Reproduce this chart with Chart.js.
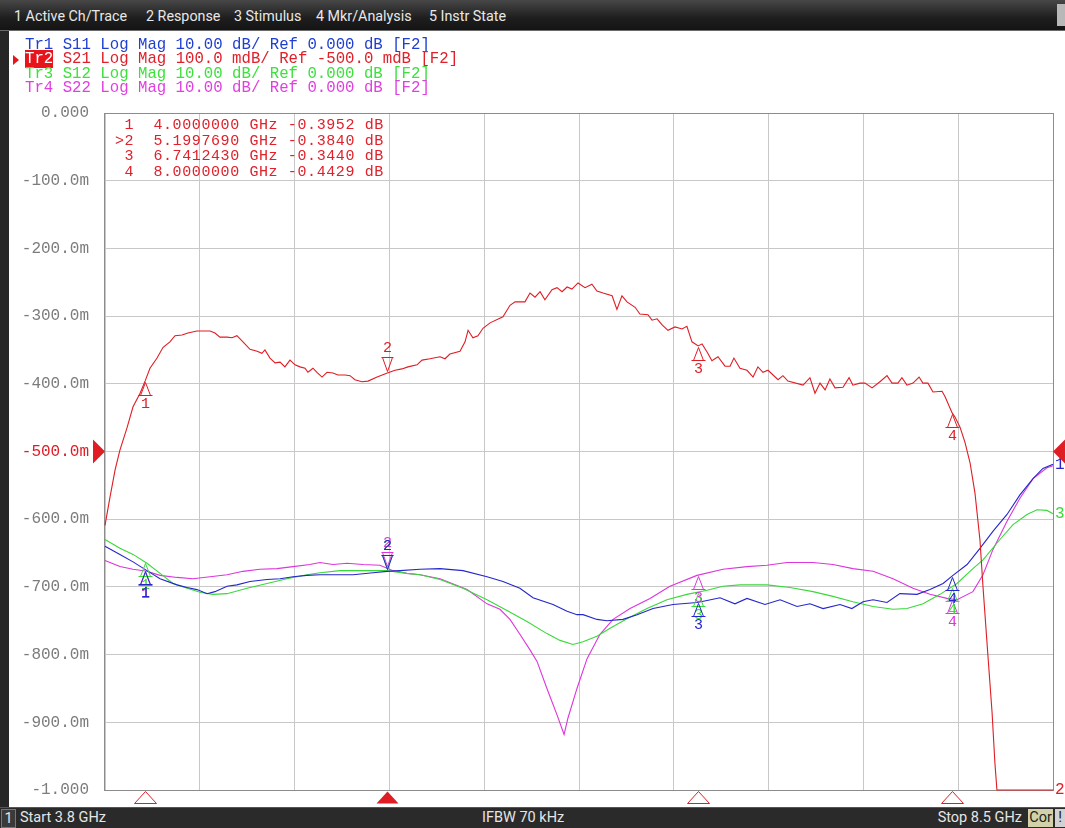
<!DOCTYPE html>
<html>
<head>
<meta charset="utf-8">
<script src="https://cdn.jsdelivr.net/npm/chart.js@4.4.0/dist/chart.umd.min.js"></script>
<style>
  html,body{margin:0;padding:0;}
  body{width:1065px;height:828px;background:#262626;overflow:hidden;position:relative;font-family:Roboto,"DejaVu Sans",sans-serif;}
  #menubar{position:absolute;left:0;top:0;width:1065px;height:30px;background:linear-gradient(#474747,#1e1e1e 60%,#141414);border-bottom:1px solid #6a6a6a;}
  #menubar span{position:absolute;top:8px;color:#e8e8e8;font-size:14.3px;white-space:nowrap;}
  #menubar .rbox{position:absolute;right:0;top:4px;width:8px;height:22px;background:#b8b8b8;}
  #panel{position:absolute;left:9px;top:31px;width:1056px;height:776px;background:#fff;}
  #c{position:absolute;left:0;top:0;}
  .mono{font-family:"Liberation Mono","DejaVu Sans Mono",monospace;white-space:pre;position:absolute;}
  #hdr{left:25px;top:38px;font-size:15.7px;line-height:14.3px;}
  #hdr .tr2{background:#e8141c;color:#fff;}
  #hdr .arrow{position:absolute;left:-12px;top:17px;width:0;height:0;border-top:5px solid transparent;border-bottom:5px solid transparent;border-left:6px solid #e8141c;}
  #mkt{left:115px;top:118px;font-size:15px;line-height:15.5px;letter-spacing:0.6px;color:#e0202a;}
  #bottombar{position:absolute;left:0;top:807px;width:1065px;height:21px;background:#2a2a2a;border-top:1px solid #555;}
  #bottombar span{position:absolute;top:1px;color:#e6e6e6;font-size:14.5px;white-space:nowrap;}
  #bottombar .chbox{left:1px;top:1px;width:13px;height:17px;border:1px solid #777;background:#3a3a3a;text-align:center;line-height:17px;}
  #bottombar .stop{right:43px;}
  #bottombar .cor{left:1028px;top:1px;width:25px;height:18px;background:#d2d2a8;color:#222;text-align:center;line-height:18px;}
  #bottombar .ex{left:1055px;top:1px;width:10px;height:18px;background:#d2d2d2;color:#222;text-align:center;line-height:18px;}
</style>
</head>
<body>
<div id="menubar">
  <span style="left:14px">1 Active Ch/Trace</span>
  <span style="left:146px">2 Response</span>
  <span style="left:234px">3 Stimulus</span>
  <span style="left:316px">4 Mkr/Analysis</span>
  <span style="left:429px">5 Instr State</span>
  <div class="rbox"></div>
</div>
<div id="panel"></div>
<canvas id="c" width="1065" height="828"></canvas>
<div id="hdr" class="mono"><span style="color:#1f3fd0">Tr1 S11 Log Mag 10.00 dB/ Ref 0.000 dB [F2]</span>
<span class="tr2">Tr2</span><span style="color:#e0202a"> S21 Log Mag 100.0 mdB/ Ref -500.0 mdB [F2]</span>
<span style="color:#3ee03e">Tr3 S12 Log Mag 10.00 dB/ Ref 0.000 dB [F2]</span>
<span style="color:#e040e0">Tr4 S22 Log Mag 10.00 dB/ Ref 0.000 dB [F2]</span><div class="arrow"></div></div>
<div id="mkt" class="mono"></div>
<div id="bottombar">
  <span class="chbox">1</span>
  <span style="left:20px">Start 3.8 GHz</span>
  <span style="left:482px">IFBW 70 kHz</span>
  <span class="stop">Stop 8.5 GHz</span>
  <span class="cor">Cor</span>
  <span class="ex">!</span>
</div>
<script>
// ---------- data ----------
const startGHz = 3.8;
const stopGHz = 8.5;

const s21Freq = [3.800,3.825,3.850,3.874,3.909,3.939,3.974,4.000,4.023,4.058,
4.088,4.122,4.147,4.182,4.211,4.256,4.321,4.345,4.370,4.405,
4.430,4.454,4.484,4.519,4.554,4.578,4.593,4.618,4.643,4.668,
4.692,4.717,4.742,4.767,4.792,4.806,4.831,4.851,4.876,4.901,
4.930,4.955,4.990,5.015,5.039,5.074,5.104,5.149,5.200,5.238,
5.272,5.302,5.347,5.372,5.411,5.461,5.486,5.510,5.560,5.585,
5.600,5.624,5.649,5.674,5.709,5.773,5.808,5.833,5.882,5.907,
5.932,5.957,5.981,6.016,6.041,6.066,6.091,6.115,6.145,6.180,
6.214,6.239,6.269,6.314,6.338,6.363,6.388,6.428,6.452,6.492,
6.512,6.537,6.562,6.591,6.626,6.661,6.685,6.710,6.741,6.760,
6.785,6.809,6.839,6.874,6.899,6.918,6.948,6.983,7.013,7.037,
7.062,7.087,7.137,7.161,7.186,7.261,7.295,7.320,7.345,7.370,
7.394,7.419,7.459,7.489,7.508,7.543,7.568,7.603,7.642,7.677,
7.702,7.731,7.751,7.776,7.806,7.836,7.855,7.880,7.905,7.950,
7.965,8.000,8.014,8.039,8.064,8.089,8.113,8.138,8.153,8.178,
8.198,8.212,8.222,8.500];
// S21 in mdB (display clamps at -1000 mdB)
const s21MdB = [-609,-567,-527,-498,-465,-434,-414,-395,-377,-362,
-346,-338,-329,-328,-325,-322,-322,-325,-331,-331,
-332,-329,-338,-349,-352,-355,-350,-362,-369,-368,
-375,-365,-372,-375,-377,-383,-377,-383,-390,-383,
-384,-387,-387,-388,-394,-397,-396,-390,-384,-380,
-378,-375,-372,-365,-363,-360,-363,-356,-352,-338,
-321,-332,-329,-318,-310,-301,-284,-279,-279,-266,
-272,-264,-276,-261,-258,-264,-257,-260,-251,-258,
-253,-263,-266,-270,-290,-270,-279,-287,-297,-298,
-306,-304,-313,-321,-316,-319,-315,-338,-344,-341,
-353,-366,-360,-374,-374,-362,-377,-380,-390,-375,
-383,-380,-394,-388,-396,-402,-391,-414,-399,-409,
-393,-406,-405,-391,-402,-399,-399,-406,-397,-388,
-399,-399,-391,-402,-399,-390,-399,-399,-412,-411,
-419,-443,-449,-464,-487,-517,-561,-631,-700,-804,
-886,-960,-1000,-1000];

const s11Freq = [3.800,3.874,3.939,4.008,4.073,4.157,4.207,4.256,4.306,4.345,
4.405,4.454,4.519,4.603,4.668,4.732,4.801,4.866,4.930,5.030,
5.129,5.198,5.263,5.362,5.461,5.575,5.694,5.773,5.857,5.922,
6.021,6.091,6.140,6.170,6.239,6.289,6.368,6.438,6.517,6.616,
6.735,6.785,6.849,6.923,6.983,7.072,7.147,7.231,7.295,7.360,
7.444,7.503,7.558,7.608,7.677,7.741,7.826,7.890,7.955,8.004,
8.074,8.138,8.202,8.272,8.336,8.401,8.450,8.500];
const s11Db = [-14.0,-15.2,-16.3,-17.6,-18.8,-19.7,-20.1,-20.4,-21.0,-20.7,
-19.9,-19.7,-19.2,-18.9,-18.8,-18.5,-18.3,-18.2,-18.2,-18.2,
-17.9,-17.7,-17.6,-17.4,-17.3,-17.6,-18.5,-19.2,-20.2,-21.6,
-22.6,-23.6,-24.1,-24.1,-24.8,-25.0,-24.8,-24.1,-23.2,-22.6,
-22.3,-22.0,-21.6,-22.5,-21.7,-22.6,-21.9,-22.9,-22.5,-23.2,
-22.6,-23.2,-22.2,-21.9,-22.3,-21.0,-21.1,-20.4,-19.5,-18.3,
-16.7,-14.3,-11.8,-9.3,-6.4,-4.0,-2.5,-1.9];

const s12Freq = [3.800,3.874,3.939,4.008,4.073,4.137,4.207,4.271,4.335,4.405,
4.504,4.603,4.702,4.801,4.866,4.965,5.099,5.198,5.297,5.362,
5.461,5.575,5.694,5.793,5.892,5.991,6.056,6.120,6.170,6.239,
6.304,6.388,6.487,6.586,6.685,6.785,6.864,6.948,7.082,7.196,
7.310,7.409,7.508,7.608,7.707,7.776,7.856,7.940,8.024,8.103,
8.153,8.237,8.302,8.371,8.421,8.470,8.500];
const s12Db = [-13.0,-14.3,-15.2,-16.5,-18.0,-19.5,-20.2,-20.8,-21.1,-21.0,
-20.2,-19.5,-18.8,-18.2,-17.9,-17.6,-17.6,-17.6,-18.0,-18.2,
-18.9,-20.2,-21.9,-23.5,-25.1,-26.9,-27.9,-28.5,-28.1,-27.3,
-26.1,-24.7,-23.2,-21.9,-21.1,-20.5,-19.9,-19.7,-19.7,-20.1,
-20.7,-21.4,-22.2,-22.9,-23.3,-23.2,-22.5,-21.1,-19.5,-17.3,
-16.0,-13.0,-10.8,-9.3,-8.6,-8.7,-9.2];

const s22Freq = [3.800,3.874,3.939,4.008,4.073,4.157,4.236,4.321,4.405,4.484,
4.568,4.653,4.732,4.816,4.866,4.930,5.000,5.079,5.163,5.228,
5.297,5.362,5.461,5.595,5.694,5.758,5.808,5.857,5.907,5.942,
5.991,6.041,6.076,6.095,6.140,6.190,6.254,6.319,6.403,6.502,
6.601,6.735,6.864,6.983,7.082,7.181,7.310,7.409,7.508,7.608,
7.707,7.806,7.890,7.974,8.024,8.103,8.153,8.202,8.272,8.336,
8.401,8.470,8.500];
const s22Db = [-16.1,-17.0,-17.4,-17.7,-18.3,-18.6,-18.8,-18.5,-18.2,-17.7,
-17.4,-17.3,-17.0,-16.7,-16.4,-16.7,-16.5,-16.7,-16.8,-17.6,
-18.0,-18.2,-18.8,-20.4,-22.5,-23.3,-24.8,-27.0,-29.3,-31.0,
-35.0,-38.9,-41.8,-39.4,-35.0,-30.6,-27.0,-24.8,-23.2,-21.7,
-19.9,-18.3,-17.4,-17.0,-16.8,-16.4,-16.4,-16.7,-17.3,-17.7,
-18.8,-20.2,-21.1,-21.7,-21.9,-20.7,-18.2,-14.5,-10.3,-6.9,
-4.0,-2.4,-2.1];

// markers
const markerNames = ['1','2','3','4'];
const markerFreq = [4.0000000, 5.1997690, 6.7412430, 8.0000000];
const markerS21dB = [-0.3952, -0.3840, -0.3440, -0.4429];
const activeMarker = 1;

// y axis (S21 scale, mdB) ticks and labels
const yTickMdB = [0,-100,-200,-300,-400,-500,-600,-700,-800,-900,-1000];
const yTickLabels = ['0.000','-100.0m','-200.0m','-300.0m','-400.0m','-500.0m','-600.0m','-700.0m','-800.0m','-900.0m','-1.000'];
const s21RefMdB = -500;
// other traces: 10 dB/div, ref 0 dB at centre
const dbScaleMin = -50, dbScaleMax = 50;

// ---------- colours ----------
const C_RED = '#e01c24', C_BLUE = '#2626cc', C_GREEN = '#3ad83a', C_MAG = '#dc36dc';

// marker table text
document.getElementById('mkt').textContent = markerNames.map((n,i)=>{
  const pre = (i===activeMarker ? '>' : ' ') + n;
  return pre + '  ' + markerFreq[i].toFixed(7) + ' GHz ' + markerS21dB[i].toFixed(4) + ' dB';
}).join('\n');

function pts(fx, vy){ return fx.map((f,i)=>({x:f, y:vy[i]})); }
function interp(xs, ys, x){
  for(let i=0;i<xs.length-1;i++){
    if(x>=xs[i] && x<=xs[i+1]){ const t=(x-xs[i])/(xs[i+1]-xs[i]); return ys[i]+t*(ys[i+1]-ys[i]); }
  }
  return ys[ys.length-1];
}

const traces = [
  {name:'1', freq:s11Freq, vals:s11Db, axis:'y2', color:C_BLUE},
  {name:'2', freq:s21Freq, vals:s21MdB, axis:'y', color:C_RED, mk: markerS21dB.map(v=>v*1000)},
  {name:'3', freq:s12Freq, vals:s12Db, axis:'y2', color:C_GREEN},
  {name:'4', freq:s22Freq, vals:s22Db, axis:'y2', color:C_MAG}
];

const MONO = '"Liberation Mono","DejaVu Sans Mono",monospace';

const vnaPlugin = {
  id:'vna',
  beforeDatasetsDraw(chart){
    const {ctx, chartArea:a} = chart;
    ctx.save();
    ctx.strokeStyle = '#8c8c8c'; ctx.lineWidth = 1;
    ctx.strokeRect(Math.round(a.left)-0.5, Math.round(a.top)+0.5, Math.round(a.right-a.left)+1, Math.round(a.bottom-a.top));
    ctx.restore();
  },
  afterDatasetsDraw(chart){
    const {ctx, chartArea:a, scales} = chart;
    const xs = scales.x;
    ctx.save();
    ctx.lineWidth = 1;
    ctx.font = '15px ' + MONO;
    ctx.textAlign = 'center'; ctx.textBaseline = 'middle';
    // trace markers, drawn magenta, green, red, blue (blue on top)
    const order = [3,2,1,0];
    order.forEach(ti=>{
      const t = traces[ti];
      const ys = scales[t.axis];
      markerFreq.forEach((f,mi)=>{
        const v = t.mk ? t.mk[mi] : interp(t.freq, t.vals, f);
        const px = Math.round(xs.getPixelForValue(f)) + 0.5;
        const py = Math.round(ys.getPixelForValue(v)) + 0.5;
        ctx.strokeStyle = t.color; ctx.fillStyle = t.color;
        ctx.beginPath();
        if(mi === activeMarker){
          ctx.moveTo(px, py-2); ctx.lineTo(px-5, py-16); ctx.lineTo(px+5, py-16); ctx.closePath();
          ctx.moveTo(px-6, py-16); ctx.lineTo(px+6, py-16);
          ctx.stroke();
          ctx.fillText(markerNames[mi], px, py-25);
        } else {
          ctx.moveTo(px, py+1); ctx.lineTo(px-5, py+14); ctx.lineTo(px+5, py+14); ctx.closePath();
          ctx.moveTo(px-7, py+14); ctx.lineTo(px+7, py+14);
          ctx.stroke();
          ctx.fillText(markerNames[mi], px, py+23);
        }
      });
    });
    // trace end labels
    ctx.textAlign = 'left';
    ctx.font = '16px ' + MONO;
    [2,1,0].forEach(ti=>{
      const t = traces[ti];
      const v = t.vals[t.vals.length-1];
      ctx.fillStyle = t.color;
      ctx.fillText(t.name, a.right+2, scales[t.axis].getPixelForValue(v));
    });
    // stimulus markers on bottom
    ctx.strokeStyle = C_RED; ctx.fillStyle = C_RED;
    markerFreq.forEach((f,mi)=>{
      const px = Math.round(xs.getPixelForValue(f)) + 0.5;
      const top = Math.round(a.bottom) + 1.5;
      ctx.beginPath();
      ctx.moveTo(px, top); ctx.lineTo(px-11, top+12); ctx.lineTo(px+11, top+12); ctx.closePath();
      if(mi === activeMarker) ctx.fill(); else ctx.stroke();
    });
    // reference arrows
    const ry = scales.y.getPixelForValue(s21RefMdB);
    ctx.beginPath(); ctx.moveTo(a.left, ry); ctx.lineTo(a.left-12, ry-12); ctx.lineTo(a.left-12, ry+12); ctx.closePath(); ctx.fill();
    ctx.beginPath(); ctx.moveTo(a.right, ry); ctx.lineTo(a.right+12, ry-12); ctx.lineTo(a.right+12, ry+12); ctx.closePath(); ctx.fill();
    ctx.restore();
  }
};

new Chart(document.getElementById('c'), {
  type:'line',
  data:{ datasets:[
    {label:'S21', data:pts(s21Freq,s21MdB), yAxisID:'y', borderColor:C_RED, order:0},
    {label:'S11', data:pts(s11Freq,s11Db), yAxisID:'y2', borderColor:C_BLUE, order:1},
    {label:'S12', data:pts(s12Freq,s12Db), yAxisID:'y2', borderColor:C_GREEN, order:2},
    {label:'S22', data:pts(s22Freq,s22Db), yAxisID:'y2', borderColor:C_MAG, order:3}
  ].map(d=>Object.assign(d,{borderWidth:1.1, pointRadius:0, tension:0, fill:false, clip:3}))},
  options:{
    responsive:false, animation:false, devicePixelRatio:1,
    layout:{padding:{top:113, right:12, bottom:38, left:0}},
    plugins:{legend:{display:false}, tooltip:{enabled:false}},
    scales:{
      x:{type:'linear', min:startGHz, max:stopGHz,
        afterBuildTicks:(s)=>{ const n=10; s.ticks = Array.from({length:n+1},(_,i)=>({value:startGHz+(stopGHz-startGHz)*i/n})); },
        ticks:{display:false}, grid:{color:'#c8c8c8', drawTicks:false, lineWidth:1}, border:{display:false}},
      y:{type:'linear', min:-1000, max:0, position:'left',
        afterBuildTicks:(s)=>{ s.ticks = yTickMdB.slice().sort((p,q)=>p-q).map(v=>({value:v})); },
        afterFit:(s)=>{ s.width = 105; },
        ticks:{padding:16, font:{family:'Liberation Mono', size:16},
          color:(c)=> c.tick && c.tick.value===s21RefMdB ? C_RED : '#7c7c7c',
          callback:(v)=> yTickLabels[yTickMdB.indexOf(v)]},
        grid:{color:'#c8c8c8', drawTicks:false, lineWidth:1}, border:{display:false}},
      y2:{type:'linear', min:dbScaleMin, max:dbScaleMax, display:false}
    }
  },
  plugins:[vnaPlugin]
});
</script>
</body>
</html>
